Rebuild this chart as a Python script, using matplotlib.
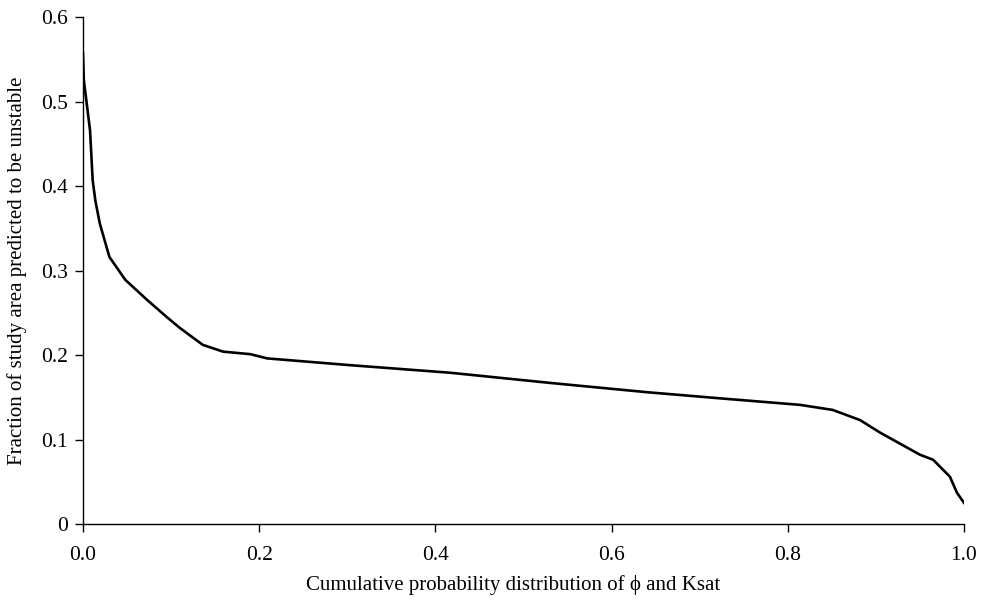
import matplotlib
matplotlib.use("Agg")
import matplotlib.pyplot as plt
from matplotlib.ticker import FuncFormatter

plt.rcParams['font.family'] = ['Liberation Serif', 'DejaVu Serif']

# values
cum_prob = [0.0, 0.001, 0.008, 0.011, 0.014, 0.019, 0.030, 0.048, 0.073, 0.095,
            0.110, 0.136, 0.159, 0.190, 0.209, 0.303, 0.417, 0.530, 0.640, 0.720,
            0.814, 0.851, 0.882, 0.905, 0.950, 0.965, 0.984, 0.992, 1.000]
frac_unstable = [0.557, 0.525, 0.466, 0.407, 0.383, 0.356, 0.316, 0.289, 0.265, 0.245,
                 0.232, 0.212, 0.204, 0.201, 0.196, 0.188, 0.179, 0.167, 0.156, 0.149,
                 0.141, 0.135, 0.123, 0.108, 0.082, 0.076, 0.056, 0.037, 0.025]
x_ticks = [0.0, 0.2, 0.4, 0.6, 0.8, 1.0]
y_ticks = [0, 0.1, 0.2, 0.3, 0.4, 0.5, 0.6]

fig = plt.figure(figsize=(9.82, 6.07), dpi=100)
ax = fig.add_axes([0.0845, 0.1367, 0.8972, 0.8353])

ax.plot(cum_prob, frac_unstable, color='black', lw=1.9)

ax.set_xlim(0, 1.0)
ax.set_ylim(0, 0.6)
ax.set_xticks(x_ticks)
ax.set_yticks(y_ticks)
ax.xaxis.set_major_formatter(FuncFormatter(lambda v, p: '%.1f' % v))
ax.yaxis.set_major_formatter(FuncFormatter(lambda v, p: '0' if v == 0 else '%.1f' % v))
ax.tick_params(direction='out', length=6, width=1, labelsize=15.5)
ax.tick_params(axis='x', pad=10)
ax.tick_params(axis='y', pad=5)

for s in ['top', 'right']:
    ax.spines[s].set_visible(False)
for s in ['left', 'bottom']:
    ax.spines[s].set_linewidth(1)

ax.set_xlabel('Cumulative probability distribution of \u03d5 and Ksat', fontsize=15)
ax.set_ylabel('Fraction of study area predicted to be unstable', fontsize=15)
ax.xaxis.set_label_coords(0.488, -0.1)
ax.yaxis.set_label_coords(-0.064, 0.5)

plt.savefig('out.png', dpi=100)
